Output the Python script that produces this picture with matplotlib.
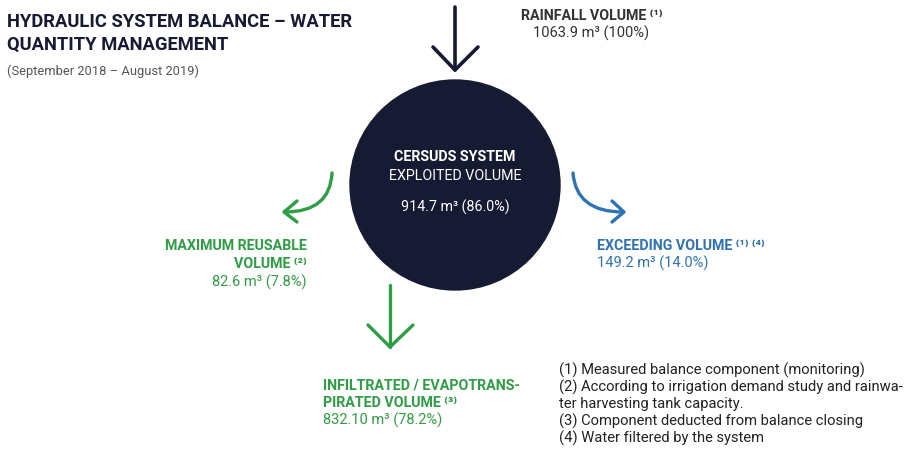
import matplotlib
matplotlib.use("Agg")
from matplotlib import pyplot as plt
from matplotlib.patches import Circle, PathPatch
from matplotlib.path import Path

# Water balance components (m3 and share of rainfall)
rain_volume = 1063.9
rain_pct = "100%"
exploited_volume = 914.7
exploited_pct = 86.0
reusable_volume = 82.6
reusable_pct = 7.8
exceeding_volume = 149.2
exceeding_pct = 14.0
infiltrated_volume = "832.10"
infiltrated_pct = 78.2

title_lines = ["HYDRAULIC SYSTEM BALANCE \u2013 WATER", "QUANTITY MANAGEMENT"]
period = "(September 2018 \u2013 August 2019)"
footnotes = [
    "(1) Measured balance component (monitoring)",
    "(2) According to irrigation demand study and rainwa-",
    "ter harvesting tank capacity.",
    "(3) Component deducted from balance closing",
    "(4) Water filtered by the system",
]

NAVY = "#161b33"
GREEN = "#2e9e44"
BLUE = "#2f73b5"
GRAY = "#555555"
FONT = ["Roboto", "DejaVu Sans"]
LBL = 10.3   # bold labels
VAL = 10.5   # values

fig = plt.figure(figsize=(9.1, 4.5), dpi=100)
ax = fig.add_axes([0, 0, 1, 1])
ax.set_xlim(0, 910)
ax.set_ylim(450, 0)
ax.axis("off")


def txt(x, y, s, color, size, bold=False, ha="left"):
    ax.text(x, y, s, color=color, fontsize=size, ha=ha, va="center",
            fontweight="bold" if bold else "normal", family=FONT)


def line(pts, color, lw=2.4):
    xs, ys = zip(*pts)
    ax.plot(xs, ys, color=color, lw=lw, solid_capstyle="round",
            solid_joinstyle="round")


def curve(p0, c, p1, color, lw=2.4):
    path = Path([p0, c, p1], [Path.MOVETO, Path.CURVE3, Path.CURVE3])
    ax.add_patch(PathPatch(path, fill=False, ec=color, lw=lw, capstyle="round"))


# title
txt(7, 22, title_lines[0], NAVY, 13.2, bold=True)
txt(7, 45, title_lines[1], NAVY, 13.2, bold=True)
txt(7, 71, period, GRAY, 9.3)

# central system
ax.add_patch(Circle((455, 185), 105, color=NAVY, zorder=1))
txt(455, 157, "CERSUDS SYSTEM", "white", LBL, bold=True, ha="center")
txt(455, 176, "EXPLOITED VOLUME", "white", LBL, ha="center")
txt(455, 207, f"{exploited_volume} m\u00b3 ({exploited_pct:.1f}%)", "white", LBL, ha="center")

# rainfall input
line([(455, 7), (455, 70)], NAVY, 2.6)
line([(433, 47), (455, 70), (478, 47)], NAVY, 2.6)
txt(592, 16, "RAINFALL VOLUME \u207d\u00b9\u207e", "#333333", LBL, bold=True, ha="center")
txt(591, 33, f"{rain_volume} m\u00b3 ({rain_pct})", "#333333", VAL, ha="center")

# maximum reusable
curve((332, 173), (330, 212), (285, 212), GREEN)
line([(297, 201), (284, 212), (297, 222)], GREEN)
txt(307, 246, "MAXIMUM REUSABLE", GREEN, LBL, bold=True, ha="right")
txt(307, 264, "VOLUME \u207d\u00b2\u207e", GREEN, LBL, bold=True, ha="right")
txt(307, 282, f"{reusable_volume} m\u00b3 ({reusable_pct}%)", GREEN, VAL, ha="right")

# exceeding
curve((573, 173), (576, 212), (623, 212), BLUE)
line([(612, 201), (624, 212), (612, 222)], BLUE)
txt(597, 246, "EXCEEDING VOLUME \u207d\u00b9\u207e \u207d\u2074\u207e", BLUE, LBL, bold=True)
txt(597, 263, f"{exceeding_volume} m\u00b3 ({exceeding_pct}%)", BLUE, VAL)

# infiltrated / evapotranspirated
line([(390, 285), (390, 347)], GREEN)
line([(368, 325), (390, 347), (413, 325)], GREEN)
txt(323, 386, "INFILTRATED / EVAPOTRANS-", GREEN, LBL, bold=True)
txt(323, 403, "PIRATED VOLUME \u207d\u00b3\u207e", GREEN, LBL, bold=True)
txt(323, 420, f"{infiltrated_volume} m\u00b3 ({infiltrated_pct}%)", GREEN, VAL)

# footnotes
for i, s in enumerate(footnotes):
    txt(559, 370 + i * 17.2, s, "#222222", 10.6)

fig.savefig("out.png", dpi=100)
